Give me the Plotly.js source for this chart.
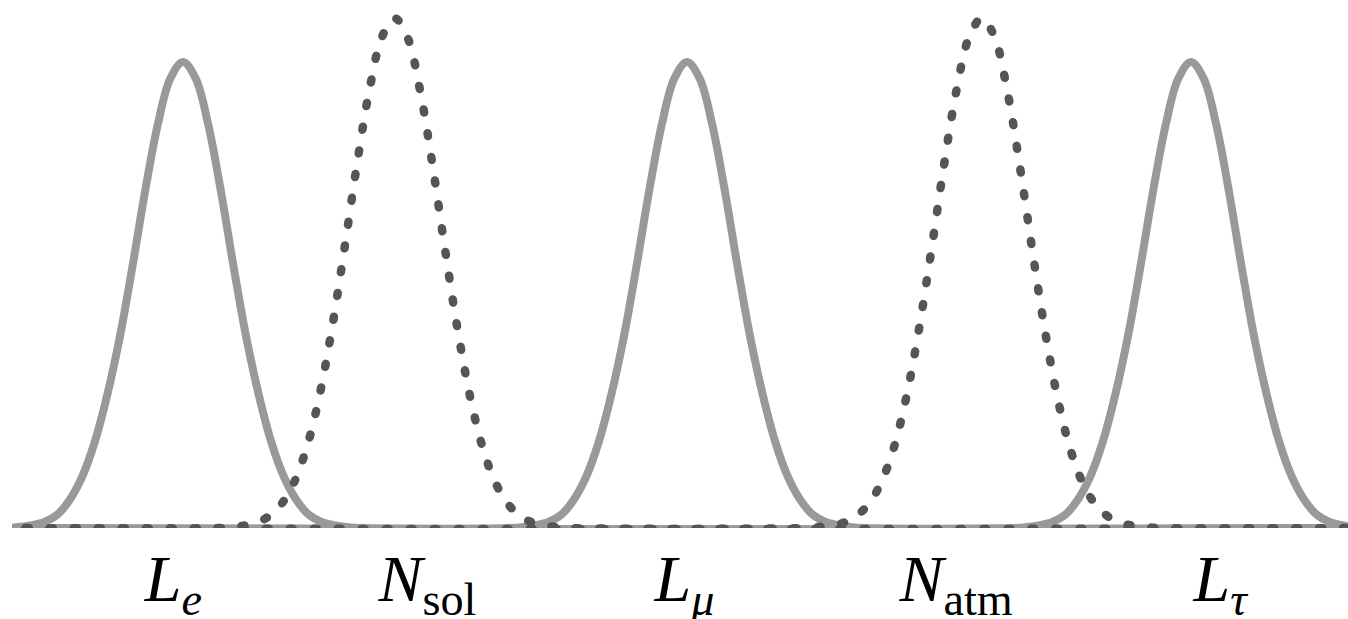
<!DOCTYPE html>
<html>
<head>
<meta charset="utf-8">
<script src="https://cdn.plot.ly/plotly-3.0.1.min.js"></script>
<style>
  html, body { margin: 0; padding: 0; background: #ffffff; }
  #chart { width: 1348px; height: 619px; }
  #chart path.js-line { stroke-linecap: round !important; stroke-linejoin: round !important; }
</style>
</head>
<body>
<div id="chart"></div>
<script>
// ---- data (x in arbitrary units, L_mu at 0; y normalised so the solid peaks are 1) ----
const leX = [-13.6, -13.5, -13.25, -13, -12.75, -12.5, -12.25, -12, -11.75, -11.5, -11.25, -11, -10.75, -10.5, -10.25, -10,
  -9.75, -9.5, -9.25, -9, -8.75, -8.5, -8.25, -8, -7.75, -7.5, -7.25, -7, -6.75, -6.5, 13.6];
const leY = [0, 0, 0.002, 0.006, 0.013, 0.028, 0.060, 0.110, 0.185, 0.287, 0.412, 0.563, 0.724, 0.866, 0.965, 1.000,
  0.965, 0.866, 0.724, 0.563, 0.412, 0.287, 0.185, 0.110, 0.060, 0.028, 0.013, 0.006, 0.002, 0, 0];

const lmuX = [-13.6, -3.5, -3.25, -3, -2.75, -2.5, -2.25, -2, -1.75, -1.5, -1.25, -1, -0.75, -0.5, -0.25, 0,
  0.25, 0.5, 0.75, 1, 1.25, 1.5, 1.75, 2, 2.25, 2.5, 2.75, 3, 3.25, 3.5, 13.6];
const lmuY = [0, 0, 0.002, 0.006, 0.013, 0.028, 0.060, 0.110, 0.185, 0.287, 0.412, 0.563, 0.724, 0.866, 0.965, 1.000,
  0.965, 0.866, 0.724, 0.563, 0.412, 0.287, 0.185, 0.110, 0.060, 0.028, 0.013, 0.006, 0.002, 0, 0];

const ltauX = [-13.6, 6.5, 6.75, 7, 7.25, 7.5, 7.75, 8, 8.25, 8.5, 8.75, 9, 9.25, 9.5, 9.75, 10,
  10.25, 10.5, 10.75, 11, 11.25, 11.5, 11.75, 12, 12.25, 12.5, 12.75, 13, 13.25, 13.5, 13.6];
const ltauY = [0, 0, 0.002, 0.006, 0.013, 0.028, 0.060, 0.110, 0.185, 0.287, 0.412, 0.563, 0.724, 0.866, 0.965, 1.000,
  0.965, 0.866, 0.724, 0.563, 0.412, 0.287, 0.185, 0.110, 0.060, 0.028, 0.013, 0.006, 0.002, 0, 0];

const nsolX = [-13.6, -9.3, -9.05, -8.8, -8.55, -8.3, -8.05, -7.8, -7.55, -7.3, -7.05, -6.8, -6.55, -6.3, -6.05, -5.8,
  -5.55, -5.3, -5.05, -4.8, -4.55, -4.3, -4.05, -3.8, -3.55, -3.3, -3.05, -2.8, -2.55, -2.3, 13.6];
const nsolY = [0, 0, 0.002, 0.005, 0.011, 0.025, 0.051, 0.097, 0.171, 0.280, 0.425, 0.597, 0.779, 0.941, 1.054, 1.094,
  1.054, 0.941, 0.779, 0.597, 0.425, 0.280, 0.171, 0.097, 0.051, 0.025, 0.011, 0.005, 0.002, 0, 0];

const natmX = [-13.6, 2.35, 2.6, 2.85, 3.1, 3.35, 3.6, 3.85, 4.1, 4.35, 4.6, 4.85, 5.1, 5.35, 5.6, 5.85,
  6.1, 6.35, 6.6, 6.85, 7.1, 7.35, 7.6, 7.85, 8.1, 8.35, 8.6, 8.85, 9.1, 9.35, 13.6];
const natmY = [0, 0, 0.002, 0.005, 0.011, 0.025, 0.051, 0.097, 0.171, 0.280, 0.425, 0.597, 0.779, 0.941, 1.054, 1.094,
  1.054, 0.941, 0.779, 0.597, 0.425, 0.280, 0.171, 0.097, 0.051, 0.025, 0.011, 0.005, 0.002, 0, 0];

// tick labels under the curves
const tickText = [
  "<i>L</i><sub><i>e</i></sub>",
  "<i>N</i><sub>sol</sub>",
  "<i>L</i><sub><i>μ</i></sub>",
  "<i>N</i><sub>atm</sub>",
  "<i>L</i><sub><i>τ</i></sub>"
];
const tickX = [-10.19, -5.15, -0.05, 5.34, 10.58];

// ---- styles ----
const solidLine = { color: "#999999", width: 8, shape: "spline", smoothing: 1 };
const dotLine = { color: "#555555", width: 8.5, shape: "spline", smoothing: 1, dash: "3px,21px" };

const traces = [
  { x: leX, y: leY, mode: "lines", line: solidLine, hoverinfo: "skip" },
  { x: lmuX, y: lmuY, mode: "lines", line: solidLine, hoverinfo: "skip" },
  { x: ltauX, y: ltauY, mode: "lines", line: solidLine, hoverinfo: "skip" },
  { x: nsolX, y: nsolY, mode: "lines", line: dotLine, hoverinfo: "skip" },
  { x: natmX, y: natmY, mode: "lines", line: dotLine, hoverinfo: "skip" }
];

const layout = {
  width: 1348, height: 619,
  margin: { l: 12, r: 0, t: 0, b: 91, pad: 0 },
  paper_bgcolor: "#ffffff", plot_bgcolor: "#ffffff",
  showlegend: false,
  xaxis: {
    range: [-13.393, 13.115],
    showgrid: false, zeroline: false, showline: false, ticks: "",
    tickmode: "array", tickvals: tickX, ticktext: tickText,
    ticklabelstandoff: 6,
    tickfont: { family: "Liberation Serif, serif", size: 66, color: "#000000" },
    fixedrange: true
  },
  yaxis: {
    range: [0, 1.133],
    showgrid: false, zeroline: false, showline: false,
    showticklabels: false, ticks: "", fixedrange: true
  }
};

Plotly.newPlot("chart", traces, layout, { staticPlot: true, displayModeBar: false });
</script>
</body>
</html>
